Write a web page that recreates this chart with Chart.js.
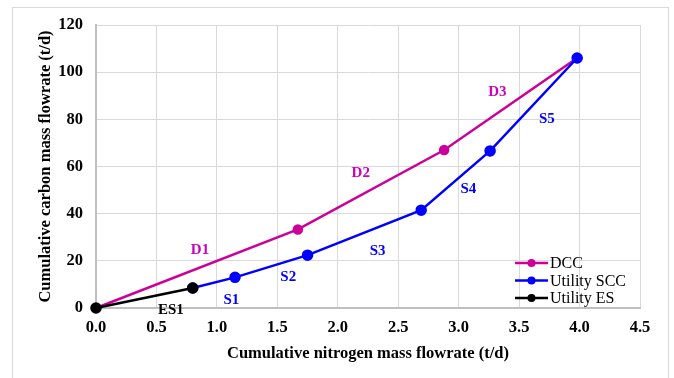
<!DOCTYPE html>
<html lang="en">
<head>
    <meta charset="UTF-8">
    <title>Cumulative carbon vs nitrogen mass flowrate</title>
    <script src="https://cdn.jsdelivr.net/npm/chart.js"></script>
    <style>
        html, body {
            margin: 0;
            padding: 0;
            background: #fff;
            overflow: hidden;
        }
        #frame {
            position: absolute;
            left: 12px;
            top: 7px;
            width: 655px;
            height: 380px;
            border: 1px solid #d9d9d9;
        }
        #chart-container {
            position: absolute;
            left: 0;
            top: 0;
            width: 674px;
            height: 378px;
        }
    </style>
</head>
<body>
    <div id="frame"></div>
    <div id="chart-container">
        <canvas id="flowChart" width="674" height="378"></canvas>
    </div>
    <script>
        // Cumulative nitrogen (x) and carbon (y) flowrates, t/d
        const dccX = [0, 1.67, 2.88, 3.98];
        const dccY = [0, 33.3, 67.0, 106.0];
        const sccX = [0.80, 1.15, 1.75, 2.69, 3.26, 3.98];
        const sccY = [8.5, 13.0, 22.4, 41.5, 66.6, 106.0];
        const esX = [0, 0.80];
        const esY = [0, 8.5];

        // Segment labels with their anchor positions (data units)
        const segNames = ['D1', 'D2', 'D3', 'S1', 'S2', 'S3', 'S4', 'S5', 'ES1'];
        const segX = [0.86, 2.19, 3.32, 1.12, 1.59, 2.33, 3.08, 3.73, 0.62];
        const segY = [24.7, 57.2, 91.6, 3.5, 13.2, 24.3, 50.6, 80.2, -0.7];
        const segSeries = ['DCC', 'DCC', 'DCC', 'SCC', 'SCC', 'SCC', 'SCC', 'SCC', 'ES'];

        const xTicks = [0, 0.5, 1, 1.5, 2, 2.5, 3, 3.5, 4, 4.5];

        const COLORS = { DCC: '#CC0099', SCC: '#0000FF', ES: '#000000' };
        const LABEL_COLORS = { DCC: '#CC00BB', SCC: '#0000FF', ES: '#000000' };
        const SERIF = '"Liberation Serif", "Times New Roman", serif';

        const toPoints = (xs, ys) => xs.map((x, i) => ({ x: x, y: ys[i] }));

        // Text labels next to each segment
        const segmentLabels = {
            id: 'segmentLabels',
            afterDatasetsDraw(chart) {
                const ctx = chart.ctx;
                const xs = chart.scales.x, ys = chart.scales.y;
                ctx.save();
                ctx.font = 'bold 15px ' + SERIF;
                ctx.textAlign = 'center';
                ctx.textBaseline = 'middle';
                segNames.forEach((name, i) => {
                    ctx.fillStyle = LABEL_COLORS[segSeries[i]];
                    ctx.fillText(name, xs.getPixelForValue(segX[i]), ys.getPixelForValue(segY[i]));
                });
                ctx.restore();
            }
        };

        // Legend drawn inside the plot, lower right
        const insideLegend = {
            id: 'insideLegend',
            afterDatasetsDraw(chart) {
                const ctx = chart.ctx;
                const area = chart.chartArea;
                const x0 = area.right - 125;
                const y0 = area.bottom - 45;
                ctx.save();
                ctx.font = '16px ' + SERIF;
                ctx.textBaseline = 'middle';
                chart.data.datasets.forEach((ds, i) => {
                    const y = y0 + i * 17.5;
                    ctx.strokeStyle = ds.borderColor;
                    ctx.lineWidth = 2.5;
                    ctx.beginPath();
                    ctx.moveTo(x0, y);
                    ctx.lineTo(x0 + 33, y);
                    ctx.stroke();
                    ctx.fillStyle = ds.borderColor;
                    ctx.beginPath();
                    ctx.arc(x0 + 16.5, y, 4, 0, Math.PI * 2);
                    ctx.fill();
                    ctx.fillStyle = '#000';
                    ctx.fillText(ds.label, x0 + 35, y + 1);
                });
                ctx.restore();
            }
        };

        const ctx = document.getElementById('flowChart').getContext('2d');
        new Chart(ctx, {
            type: 'scatter',
            data: {
                datasets: [
                    {
                        label: 'DCC',
                        data: toPoints(dccX, dccY),
                        order: 3,
                        showLine: true,
                        clip: false,
                        borderColor: COLORS.DCC,
                        backgroundColor: COLORS.DCC,
                        borderWidth: 2.5,
                        pointRadius: 4,
                        tension: 0
                    },
                    {
                        label: 'Utility SCC',
                        data: toPoints(sccX, sccY),
                        order: 2,
                        showLine: true,
                        clip: false,
                        borderColor: COLORS.SCC,
                        backgroundColor: COLORS.SCC,
                        borderWidth: 2.5,
                        pointRadius: 4.5,
                        tension: 0
                    },
                    {
                        label: 'Utility ES',
                        data: toPoints(esX, esY),
                        order: 1,
                        showLine: true,
                        clip: false,
                        borderColor: COLORS.ES,
                        backgroundColor: COLORS.ES,
                        borderWidth: 2.5,
                        pointRadius: 4.5,
                        tension: 0
                    }
                ]
            },
            options: {
                responsive: false,
                animation: false,
                layout: { padding: { left: 32, top: 25, right: 34, bottom: 10 } },
                plugins: {
                    legend: { display: false },
                    tooltip: { enabled: false }
                },
                scales: {
                    x: {
                        type: 'linear',
                        min: 0,
                        max: 4.5,
                        afterBuildTicks(scale) {
                            scale.ticks = xTicks.map(v => ({ value: v }));
                        },
                        afterFit(scale) { scale.height = 60; },
                        grid: {
                            color: '#d9d9d9',
                            lineWidth: 1,
                            drawTicks: false
                        },
                        border: { color: '#bfbfbf', width: 2 },
                        ticks: {
                            color: '#000',
                            padding: 10,
                            font: { family: SERIF, size: 16.5, weight: 'bold' },
                            callback: v => v.toFixed(1)
                        },
                        title: {
                            display: true,
                            text: 'Cumulative nitrogen mass flowrate (t/d)',
                            color: '#000',
                            font: { family: SERIF, size: 16.5, weight: 'bold' },
                            padding: { top: 4 }
                        }
                    },
                    y: {
                        type: 'linear',
                        min: 0,
                        max: 120,
                        afterFit(scale) { scale.width = 64; },
                        grid: {
                            color: '#d9d9d9',
                            lineWidth: 1,
                            drawTicks: false
                        },
                        border: { color: '#bfbfbf', width: 2 },
                        ticks: {
                            stepSize: 20,
                            color: '#000',
                            padding: 13,
                            font: { family: SERIF, size: 16.5, weight: 'bold' }
                        },
                        title: {
                            display: true,
                            text: 'Cumulative carbon mass flowrate (t/d)',
                            color: '#000',
                            font: { family: SERIF, size: 16.5, weight: 'bold' },
                            padding: { bottom: 4 }
                        }
                    }
                }
            },
            plugins: [segmentLabels, insideLegend]
        });
    </script>
</body>
</html>
